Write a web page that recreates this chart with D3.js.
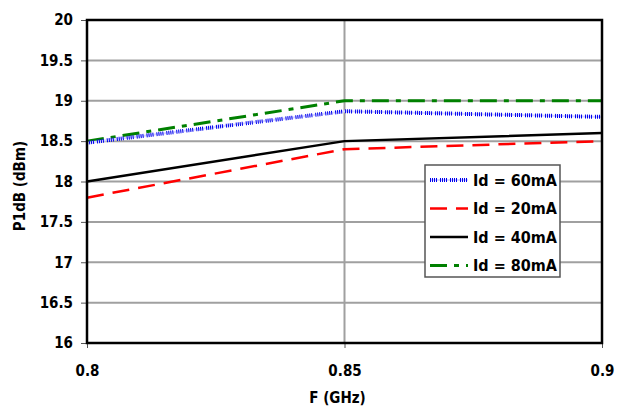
<!DOCTYPE html>
<html>
<head>
<meta charset="utf-8">
<script src="https://cdn.jsdelivr.net/npm/d3@7"></script>
<style>
body { margin: 0; background: #fff; }
text { font-family: "DejaVu Sans Condensed", "DejaVu Sans", sans-serif; font-weight: bold; }
</style>
</head>
<body>
<div id="viz"></div>
<script>
// data
var freqs = [0.8, 0.85, 0.9];
var seriesNames = ["Id = 60mA", "Id = 20mA", "Id = 40mA", "Id = 80mA"];
var id60 = [18.48, 18.87, 18.8];
var id20 = [17.8, 18.4, 18.5];
var id40 = [18.0, 18.5, 18.6];
var id80 = [18.5, 19.0, 19.0];
var yTicks = [16, 16.5, 17, 17.5, 18, 18.5, 19, 19.5, 20];
var xTicks = [0.8, 0.85, 0.9];

var margin = {top: 20, right: 28, bottom: 65, left: 87},
    width = 630 - margin.left - margin.right,
    height = 408 - margin.top - margin.bottom;

var svg = d3.select("#viz")
  .append("svg")
    .attr("width", 630)
    .attr("height", 408)
  .append("g")
    .attr("transform", "translate(" + margin.left + "," + margin.top + ")");

var x = d3.scaleLinear().domain([0.8, 0.9]).range([0, width]);
var y = d3.scaleLinear().domain([16, 20]).range([height, 0]);

// grid
svg.append("g").selectAll("line").data(yTicks).enter().append("line")
  .attr("x1", 0).attr("x2", width)
  .attr("y1", d => y(d)).attr("y2", d => y(d))
  .attr("stroke", "#a0a0a0").attr("stroke-width", 2);
svg.append("line")
  .attr("x1", x(0.85)).attr("x2", x(0.85))
  .attr("y1", 0).attr("y2", height)
  .attr("stroke", "#a0a0a0").attr("stroke-width", 2);

// axes
var yAxis = svg.append("g")
  .call(d3.axisLeft(y).tickValues(yTicks).tickSize(6).tickSizeOuter(0).tickFormat(d3.format("")));
yAxis.select(".domain").remove();
yAxis.selectAll("line").attr("stroke", "#555");
yAxis.selectAll("text").attr("x", -14).style("font-size", "15px").attr("fill", "#000");

var xAxis = svg.append("g")
  .attr("transform", "translate(0," + height + ")")
  .call(d3.axisBottom(x).tickValues(xTicks).tickSize(5).tickSizeOuter(0).tickFormat(d3.format("")));
xAxis.select(".domain").remove();
xAxis.selectAll("line").attr("stroke", "#555");
xAxis.selectAll("text").attr("y", 22).style("font-size", "15px").attr("fill", "#000");

// lines
var line = d3.line().x((d, i) => x(freqs[i])).y(d => y(d));

var styles = [
  {data: id60, color: "#0000ee", width: 4, dash: "1,1,1,1,1,1,1,3", under: "#d4d4ff"},
  {data: id20, color: "#ff0000", width: 2.5, dash: "17,9"},
  {data: id40, color: "#000000", width: 2.5, dash: null},
  {data: id80, color: "#008000", width: 3, dash: "17,7,5,7"}
];

// draw order: back to front
[3, 2, 1, 0].forEach(function(k) {
  var s = styles[k];
  if (s.under) {
    svg.append("path").datum(s.data).attr("d", line)
      .attr("fill", "none").attr("stroke", s.under).attr("stroke-width", 2);
  }
  svg.append("path").datum(s.data).attr("d", line)
    .attr("fill", "none").attr("stroke", s.color).attr("stroke-width", s.width)
    .attr("stroke-dasharray", s.dash);
});

// plot border
svg.append("rect")
  .attr("x", 0).attr("y", 0).attr("width", width).attr("height", height)
  .attr("fill", "none").attr("stroke", "#000").attr("stroke-width", 2.5);

// legend
var lg = svg.append("g").attr("transform", "translate(" + (425 - margin.left) + "," + (165 - margin.top) + ")");
lg.append("rect").attr("width", 135).attr("height", 112)
  .attr("fill", "#fff").attr("stroke", "#555").attr("stroke-width", 1.5);
styles.forEach(function(s, i) {
  var yy = 15 + i * 28.5;
  if (s.under) {
    lg.append("line").attr("x1", 5).attr("x2", 43).attr("y1", yy).attr("y2", yy)
      .attr("stroke", s.under).attr("stroke-width", 2);
  }
  lg.append("line").attr("x1", 5).attr("x2", 43).attr("y1", yy).attr("y2", yy)
    .attr("stroke", s.color).attr("stroke-width", s.width)
    .attr("stroke-dasharray", s.dash);
  lg.append("text").attr("x", 48).attr("y", yy).attr("dy", "0.35em")
    .style("font-size", "16px").text(seriesNames[i]);
});

// axis titles
svg.append("text")
  .attr("text-anchor", "middle")
  .attr("x", x(0.85) - 7).attr("y", height + 60)
  .style("font-size", "15px")
  .text("F (GHz)");

svg.append("text")
  .attr("text-anchor", "middle")
  .attr("transform", "rotate(-90)")
  .attr("x", -166).attr("y", -62)
  .style("font-size", "15px")
  .text("P1dB (dBm)");
</script>
</body>
</html>
